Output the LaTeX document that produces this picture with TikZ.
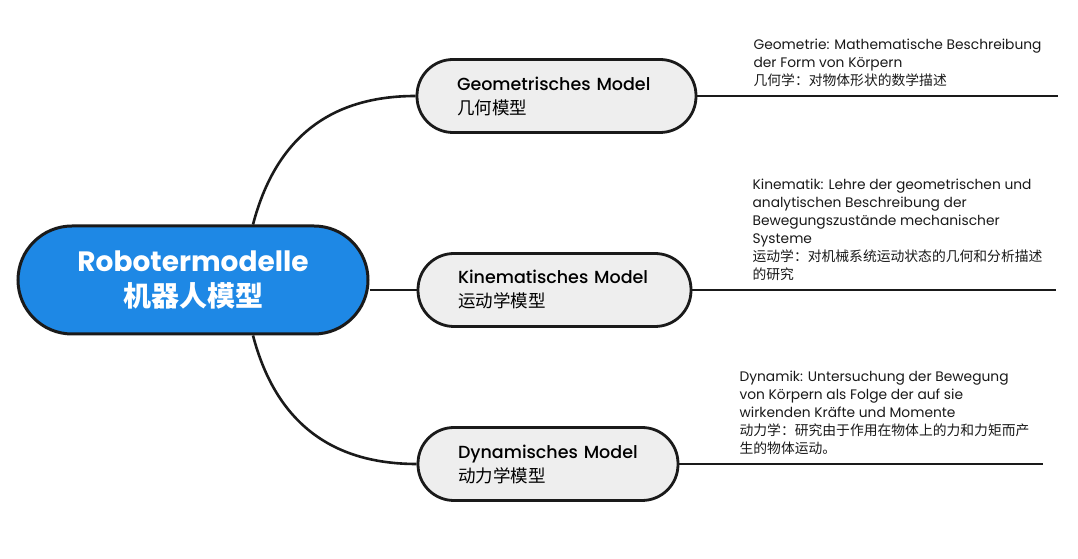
\documentclass[tikz,border=0pt]{standalone}
\usepackage{fontspec}
\setmainfont{Poppins}
\newfontfamily\cjk{Noto Sans CJK SC}
\newfontfamily\medium{Poppins Medium}
\definecolor{rootblue}{HTML}{1E88E5}
\definecolor{topicgray}{HTML}{EEEEEE}
\definecolor{linedark}{HTML}{1A1A1A}

\begin{document}
\begin{tikzpicture}[x=1pt, y=1pt,
    root/.style ={rectangle, rounded corners=54pt, draw=linedark, line width=3pt, fill=rootblue,
      minimum width=350pt, minimum height=108pt, text=white, align=center,
      font=\bfseries\fontsize{28}{35}\selectfont},
    topic/.style ={rectangle, rounded corners=36pt, draw=linedark, line width=2.8pt, fill=topicgray,
      minimum height=73pt, inner xsep=40pt, text width=#1, align=left, text=black,
      font=\fontsize{17.5}{24}\selectfont},
    note/.style ={anchor=south west, inner sep=0pt, align=left, text=black!90,
      font=\fontsize{13.8}{18}\selectfont},
    branch/.style ={line width=2.6pt, draw=linedark}]
   \useasboundingbox (0,0) rectangle (1078,559);

   \node[root] (root) at (193,279)
     {Robotermodelle\\\cjk 机器人模型};

   \node[topic=199pt] (geo) at (556.5,463)
     {\medium Geometrisches~Model\\\cjk 几何模型};
   \node[topic=193pt] (kin) at (554.5,269)
     {\medium Kinematisches~Model\\\cjk 运动学模型};
   \node[topic=180pt] (dyn) at (548,95)
     {\medium Dynamisches~Model\\\cjk 动力学模型};

   \draw[branch] ([xshift=60pt]root.north) .. controls +(22,84) and +(-88,0) .. (geo.west);
   \draw[branch] (root.east |- kin.west) -- (kin.west);
   \draw[branch] ([xshift=60pt]root.south) .. controls +(22,-84) and +(-88,0) .. (dyn.west);

   \coordinate (geoend) at ([xshift=361pt]geo.east);
   \coordinate (kinend) at ([xshift=364pt]kin.east);
   \coordinate (dynend) at ([xshift=364pt]dyn.east);
   \draw[branch] (geo.east) -- (geoend);
   \draw[branch] (kin.east) -- (kinend);
   \draw[branch] (dyn.east) -- (dynend);

   \node[note] (geonote) at ([xshift=56pt, yshift=9pt]geo.east)
     {Geometrie: Mathematische Beschreibung\\der Form von Körpern\\\cjk 几何学：对物体形状的数学描述};
   \node[note] (kinnote) at ([xshift=60pt, yshift=9pt]kin.east)
     {Kinematik: Lehre der geometrischen und\\analytischen Beschreibung der\\Bewegungszustände mechanischer\\Systeme\\\cjk 运动学：对机械系统运动状态的几何和分析描述\\\cjk 的研究};
   \node[note] (dynnote) at ([xshift=60pt, yshift=9pt]dyn.east)
     {Dynamik: Untersuchung der Bewegung\\von Körpern als Folge der auf sie\\wirkenden Kräfte und Momente\\\cjk 动力学：研究由于作用在物体上的力和力矩而产\\\cjk 生的物体运动。};
 \end{tikzpicture}
\end{document}
